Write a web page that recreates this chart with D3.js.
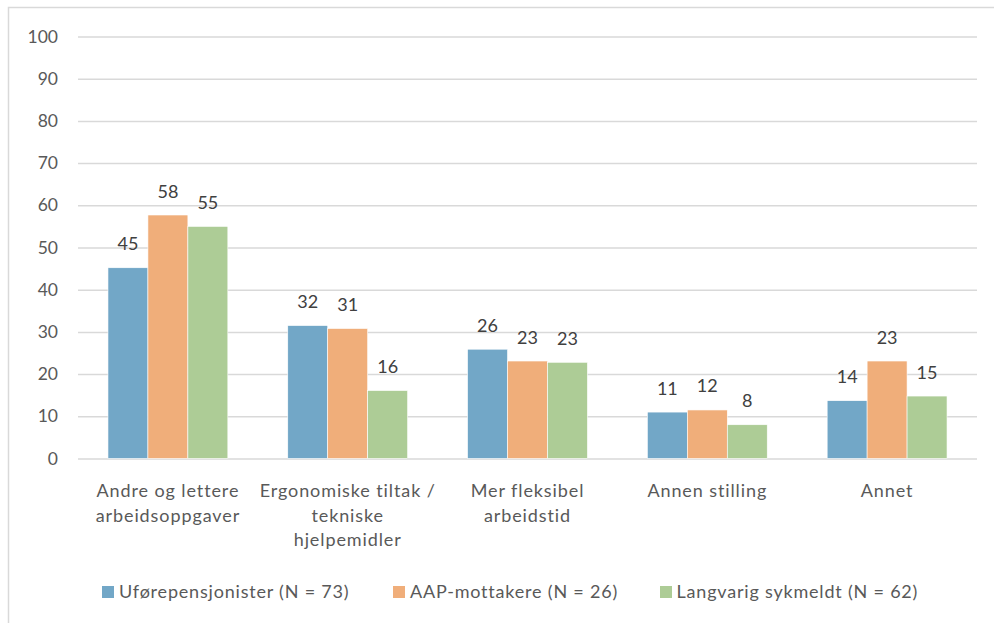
<!DOCTYPE html>
<html>
<head>
	<meta charset="utf-8">
	<title>Tilrettelegging</title>
	<script type="text/javascript" src="https://d3js.org/d3.v7.min.js"></script>
	<style>
		body { margin: 0; background: #fff; }
		text { font-family: Lato, "Open Sans", sans-serif; }
	</style>
</head>
<body>
	<div id="chart"></div>
	<script>
	var categories = [
		["Andre og lettere", "arbeidsoppgaver"],
		["Ergonomiske tiltak /", "tekniske", "hjelpemidler"],
		["Mer fleksibel", "arbeidstid"],
		["Annen stilling"],
		["Annet"]
	];
	var seriesNames = ["Uførepensjonister (N = 73)", "AAP-mottakere (N = 26)", "Langvarig sykmeldt (N = 62)"];
	var uforeValues = [45.2, 31.5, 25.9, 11.0, 13.7];
	var aapValues = [57.7, 30.8, 23.1, 11.5, 23.1];
	var sykmeldtValues = [55.0, 16.1, 22.8, 8.0, 14.8];
	var yTicks = [0, 10, 20, 30, 40, 50, 60, 70, 80, 90, 100];
	var colors = ["#72a7c7", "#f0ae7a", "#adcc96"];

	var seriesValues = [uforeValues, aapValues, sykmeldtValues];

	var width = 994;
	var height = 623;
	var plot = { left: 78, right: 977, top: 36.5, bottom: 458.5 };

	var svg = d3.select("#chart")
				.append("svg")
					.attr("width", width)
					.attr("height", height);

	// outer frame
	svg.append("rect")
		.attr("x", 8.5)
		.attr("y", 7.5)
		.attr("width", 990)
		.attr("height", 640)
		.attr("fill", "none")
		.attr("stroke", "#d9d9d9")
		.attr("stroke-width", 1.5);

	var y = d3.scaleLinear()
			.domain([0, 100])
			.range([plot.bottom, plot.top]);

	var x0 = d3.scaleBand()
			.domain(d3.range(categories.length))
			.range([plot.left, plot.right])
			.paddingInner(0.3333)
			.paddingOuter(0.1667);

	var x1 = d3.scaleBand()
			.domain(d3.range(seriesValues.length))
			.range([0, x0.bandwidth()]);

	// gridlines + tick labels
	var yAxis = d3.axisLeft(y)
			.tickValues(yTicks)
			.tickSize(-(plot.right - plot.left))
			.tickPadding(20);

	var gy = svg.append("g")
			.attr("transform", "translate(" + plot.left + ",0)")
			.call(yAxis);
	gy.select(".domain").remove();
	gy.selectAll(".tick line")
		.attr("stroke", "#d9d9d9")
		.attr("stroke-width", 1.5);
	gy.selectAll(".tick text")
		.attr("fill", "#595959")
		.attr("font-size", 17.5);

	// bars
	var groups = svg.selectAll("g.series")
				.data(seriesValues)
				.enter()
				.append("g")
				.attr("class", "series")
				.attr("fill", function(d, i){ return colors[i]; });

	groups.each(function(vals, s){
		var g = d3.select(this);
		g.selectAll("rect")
			.data(vals)
			.enter()
			.append("rect")
			.attr("x", function(d, i){ return x0(i) + x1(s); })
			.attr("y", function(d){ return y(d); })
			.attr("width", x1.bandwidth())
			.attr("height", function(d){ return y(0) - y(d); })
			.attr("stroke", "#fff")
			.attr("stroke-width", 0.6);

		g.selectAll("text")
			.data(vals)
			.enter()
			.append("text")
			.attr("x", function(d, i){ return x0(i) + x1(s) + x1.bandwidth() / 2; })
			.attr("y", function(d){ return y(d) - 17.5; })
			.attr("text-anchor", "middle")
			.attr("fill", "#404040")
			.attr("font-size", 18)
			.text(function(d){ return Math.round(d); });
	});

	// category labels
	var cat = svg.selectAll("text.cat")
			.data(categories)
			.enter()
			.append("text")
			.attr("class", "cat")
			.attr("text-anchor", "middle")
			.attr("fill", "#595959")
			.attr("font-size", 18)
			.attr("letter-spacing", 0.9);

	cat.selectAll("tspan")
		.data(function(d, i){ return d.map(function(t){ return { t: t, i: i }; }); })
		.enter()
		.append("tspan")
		.attr("x", function(d){ return x0(d.i) + x0.bandwidth() / 2; })
		.attr("y", function(d, j){ return 497 + j * 24.5; })
		.text(function(d){ return d.t; });

	// legend
	var legendX = [102, 393, 660];
	var legend = svg.selectAll("g.legend")
			.data(seriesNames)
			.enter()
			.append("g")
			.attr("class", "legend")
			.attr("transform", function(d, i){ return "translate(" + legendX[i] + ",586)"; });

	legend.append("rect")
		.attr("width", 12)
		.attr("height", 12)
		.attr("fill", function(d, i){ return colors[i]; });

	legend.append("text")
		.attr("x", function(d, i){ return i == 2 ? 16.5 : 17; })
		.attr("y", 11.5)
		.attr("fill", "#595959")
		.attr("font-size", 18)
		.attr("letter-spacing", 0.8)
		.text(function(d){ return d; });
	</script>
</body>
</html>
